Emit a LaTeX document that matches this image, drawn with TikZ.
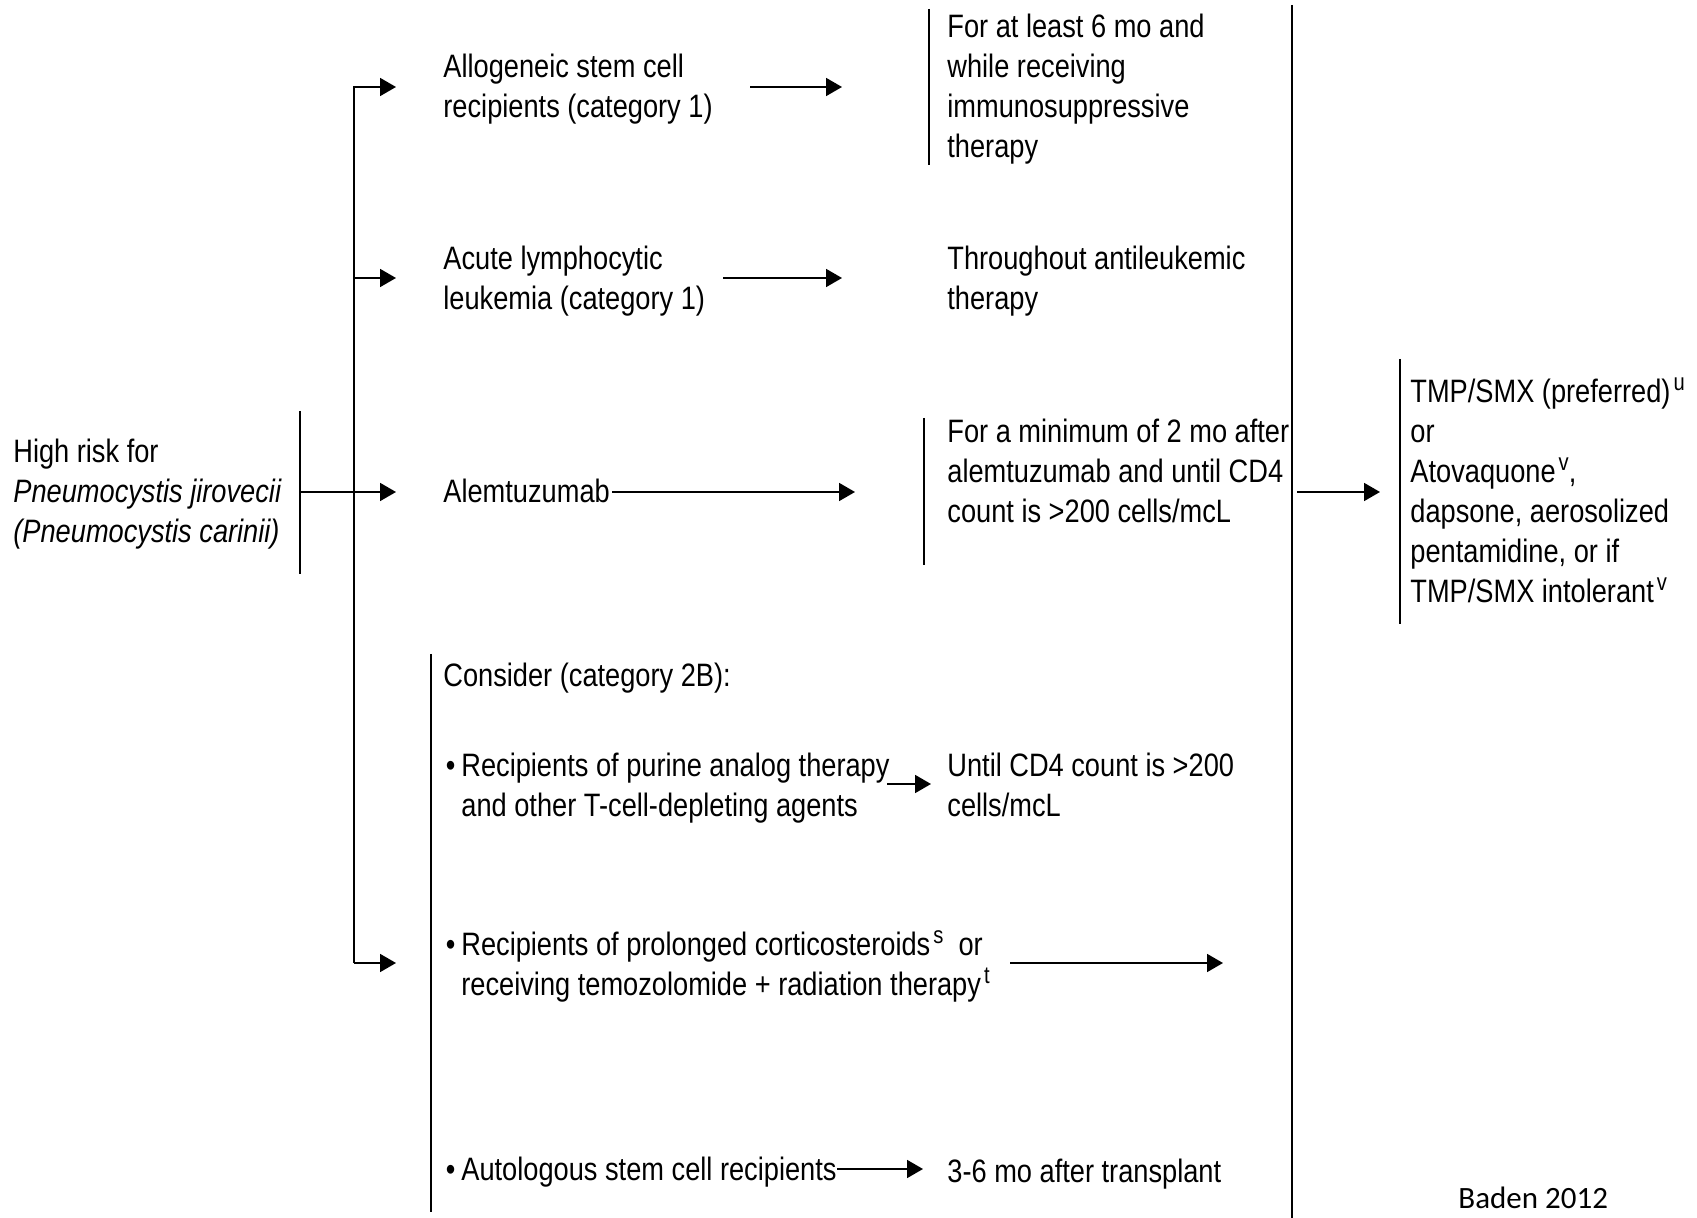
\documentclass[tikz,border=0pt]{standalone}
\usepackage{fontspec}
\setmainfont{Liberation Sans}[FakeStretch=0.84]
\newfontfamily\badenfont{Carlito}
\usetikzlibrary{arrows.meta}
\newcommand\suptxt[1]{\hspace{1.5pt}\raisebox{6pt}{\fontsize{12pt}{12pt}\selectfont #1}}
\begin{document}
\begin{tikzpicture}[x=0.5pt,y=-0.5pt,
  txt/.style={anchor=base west, inner sep=0pt, align=left, font=\fontsize{16.2pt}{20pt}\selectfont},
  arr/.style={-{Triangle[length=8pt,width=9pt]}, line width=0.9pt},
  bar/.style={line width=0.8pt}]
\fill[white] (0,0) rectangle (1697,1218);
\useasboundingbox (0,0) rectangle (1697,1218);

% text nodes (base anchor = baseline of the last line)
\node[txt] (risk) at (13,543) {High risk for\\\textit{Pneumocystis jirovecii}\\\textit{(Pneumocystis carinii)}};
\node[txt] (allo) at (443,118) {Allogeneic stem cell\\recipients (category 1)};
\node[txt] (allot) at (947,158) {For at least 6 mo and\\while receiving\\immunosuppressive\\therapy};
\node[txt] (all) at (443,310) {Acute lymphocytic\\leukemia (category 1)};
\node[txt] (allt) at (947,310) {Throughout antileukemic\\therapy};
\node[txt] (alem) at (443,503) {Alemtuzumab};
\node[txt] (alemt) at (947,523) {For a minimum of 2 mo after\\alemtuzumab and until CD4\\count is >200 cells/mcL};
\node[txt] (tmp) at (1410,603) {TMP/SMX (preferred)\suptxt{u}\\or\\Atovaquone\suptxt{v},\\dapsone, aerosolized\\pentamidine, or if\\TMP/SMX intolerant\suptxt{v}};
\node[txt] (cons) at (443,687) {Consider (category 2B):};
\node[txt] (pur) at (461,816) {\llap{\textbullet\hspace{3pt}}Recipients of purine analog therapy\\and other T-cell-depleting agents};
\node[txt] (until) at (947,816) {Until CD4 count is >200\\cells/mcL};
\node[txt] (cort) at (461,995) {\llap{\textbullet\hspace{3pt}}Recipients of prolonged corticosteroids\suptxt{s}\ \ or\\receiving temozolomide + radiation therapy\suptxt{t}};
\node[txt] (auto) at (461,1180) {\llap{\textbullet\hspace{3pt}}Autologous stem cell recipients};
\node[txt] (autot) at (947,1182) {3-6 mo after transplant};
\node[anchor=base west, inner sep=0pt, font=\badenfont\fontsize{15.5pt}{18pt}\selectfont] (baden) at (1458,1208) {Baden 2012};

% coordinates
\coordinate (lb1) at (300,411);
\coordinate (lb2) at (300,574);
\coordinate (lbm) at (300,492);
\coordinate (tb) at (354,963);
\coordinate (a1) at (396,87);
\coordinate (t2) at (354,278);
\coordinate (a2) at (396,278);
\coordinate (a3) at (396,492);
\coordinate (a5) at (396,963);
\coordinate (s1) at (750,87);
\coordinate (e1) at (842,87);
\coordinate (s2) at (723,278);
\coordinate (e2) at (842,278);
\coordinate (s3) at (612,492);
\coordinate (e3) at (855,492);
\coordinate (b1a) at (929,9);
\coordinate (b1b) at (929,165);
\coordinate (b2a) at (924,418);
\coordinate (b2b) at (924,565);
\coordinate (bigA) at (1292,5);
\coordinate (bigB) at (1292,1218);
\coordinate (s4) at (1297,492);
\coordinate (e4) at (1380,492);
\coordinate (b3a) at (1400,359);
\coordinate (b3b) at (1400,624);
\coordinate (cba) at (431,654);
\coordinate (cbb) at (431,1212);
\coordinate (s5) at (887,784);
\coordinate (e5) at (931,784);
\coordinate (s6) at (1010,963);
\coordinate (e6) at (1223,963);
\coordinate (s7) at (837,1169);
\coordinate (e7) at (923,1169);

% bars
\draw[bar] (lb1) -- (lb2);
\draw[bar] (b1a) -- (b1b);
\draw[bar] (b2a) -- (b2b);
\draw[bar] (bigA) -- (bigB);
\draw[bar] (b3a) -- (b3b);
\draw[bar] (cba) -- (cbb);

% trunk and arrows
\draw[arr] (tb) |- (a1);
\draw[arr] (t2) -- (a2);
\draw[arr] (lbm) -- (a3);
\draw[arr] (tb) -- (a5);
\draw[arr] (s1) -- (e1);
\draw[arr] (s2) -- (e2);
\draw[arr] (s3) -- (e3);
\draw[arr] (s4) -- (e4);
\draw[arr] (s5) -- (e5);
\draw[arr] (s6) -- (e6);
\draw[arr] (s7) -- (e7);
\end{tikzpicture}
\end{document}
